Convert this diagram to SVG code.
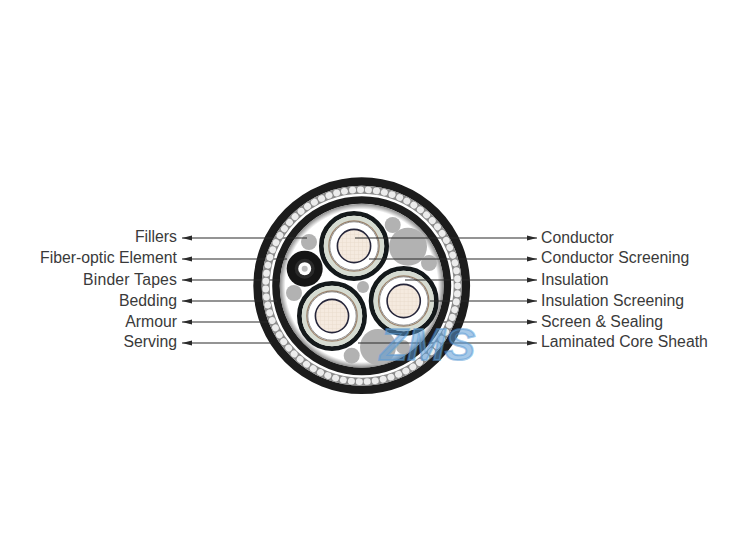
<svg xmlns="http://www.w3.org/2000/svg" width="750" height="550" viewBox="0 0 750 550">
<defs>
<marker id="arr" markerUnits="userSpaceOnUse" markerWidth="10" markerHeight="6" refX="10" refY="3" orient="auto-start-reverse"><path d="M0 0.6L10 3L0 5.4Z" fill="#2a2a2a"/></marker>
<radialGradient id="fade" cx="50%" cy="50%" r="50%"><stop offset="0.93" stop-color="#fff"/><stop offset="1" stop-color="#8a8a8a"/></radialGradient>
<pattern id="cond" width="4" height="4" patternUnits="userSpaceOnUse"><rect width="4" height="4" fill="#f5eadf"/><path d="M0 0H4M0 0V4" stroke="#e9dccd" stroke-width="1"/></pattern>
<g id="core">
<circle r="32.6" fill="#fff" stroke="#14191b" stroke-width="4.8"/>
<circle r="27.8" fill="none" stroke="#d6dcd2" stroke-width="5"/>
<circle r="25.2" fill="none" stroke="#9a8068" stroke-width="1.2"/>
<circle r="24.2" fill="none" stroke="#666" stroke-width="0.7"/>
<circle r="16.6" fill="url(#cond)" stroke="#26263a" stroke-width="1.6"/>
</g>
</defs>
<style>
.lbl{font-family:"Liberation Sans",Arial,sans-serif;font-size:15.8px;fill:#3a3a3a}
.l{text-anchor:end}
.ln{stroke:#2a2a2a;stroke-width:1.1;fill:none}
.fill{fill:#b2b2b2}
</style>
<rect width="750" height="550" fill="#fff"/>
<g id="cable">
<circle id="serving" cx="361.7" cy="285.7" r="104.2" fill="#fff" stroke="#1c1c1c" stroke-width="8.4"/>
<circle id="bedding" cx="361.7" cy="285.7" r="85.7" fill="none" stroke="#1c1c1c" stroke-width="7.6"/>
<circle cx="361.7" cy="285.7" r="82" fill="url(#fade)"/>
</g>
<g id="fillers">
<circle class="fill" cx="309" cy="242" r="8"/>
<circle class="fill" cx="392.7" cy="225" r="8"/>
<circle class="fill" cx="408" cy="246.7" r="19"/>
<circle class="fill" cx="429" cy="263" r="8"/>
<circle class="fill" cx="294" cy="293" r="8"/>
<circle class="fill" cx="363" cy="287" r="6"/>
<circle class="fill" cx="378" cy="347" r="18"/>
<circle class="fill" cx="351.7" cy="355.7" r="8"/>
<circle class="fill" cx="403" cy="347" r="7"/>
</g>
<g id="fiber-optic">
<circle cx="304.7" cy="268.7" r="18" fill="#151515"/>
<circle cx="304.7" cy="268.7" r="10" fill="#2a2a2a"/>
<circle cx="304.7" cy="268.7" r="6.5" fill="#fff"/>
<circle cx="304.7" cy="268.7" r="3" fill="#bbb"/>
</g>
<use id="core-top" href="#core" x="354" y="246"/>
<use id="core-right" href="#core" x="403.7" y="301"/>
<use id="core-left" href="#core" x="332" y="316"/>
<g id="connectors">
<path class="ln" marker-end="url(#arr)" d="M307 238H182"/>
<path class="ln" marker-end="url(#arr)" d="M287 259H182"/>
<path class="ln" marker-end="url(#arr)" d="M280 280H182"/>
<path class="ln" marker-end="url(#arr)" d="M277 301H182"/>
<path class="ln" marker-end="url(#arr)" d="M267 322H182"/>
<path class="ln" marker-end="url(#arr)" d="M272 343H182"/>
<path class="ln" marker-end="url(#arr)" d="M355 238H537"/>
<path class="ln" marker-end="url(#arr)" d="M369 259H537"/>
<path class="ln" marker-end="url(#arr)" d="M405 280H537"/>
<path class="ln" marker-end="url(#arr)" d="M430 301H537"/>
<path class="ln" marker-end="url(#arr)" d="M440 322H537"/>
<path class="ln" marker-end="url(#arr)" d="M358 343H537"/>
</g>
<g id="armour">
<circle cx="361.7" cy="285.7" r="96" fill="none" stroke="#8c8c8c" stroke-width="8"/>
<circle cx="361.7" cy="285.7" r="96" fill="none" stroke="#ececec" stroke-width="6.6" stroke-dasharray="0.4 7.64" stroke-linecap="round"/>
</g>
<g id="labels-left">
<text class="lbl l" x="177" y="241.5">Fillers</text>
<text class="lbl l" x="177" y="262.5">Fiber-optic Element</text>
<text class="lbl l" x="177" y="284.5" textLength="94">Binder Tapes</text>
<text class="lbl l" x="177" y="305.5">Bedding</text>
<text class="lbl l" x="177" y="326.5">Armour</text>
<text class="lbl l" x="177" y="346.5">Serving</text>
</g>
<g id="labels-right">
<text class="lbl" x="541" y="242.5">Conductor</text>
<text class="lbl" x="541" y="262.5">Conductor Screening</text>
<text class="lbl" x="541" y="284.5">Insulation</text>
<text class="lbl" x="541" y="305.5">Insulation Screening</text>
<text class="lbl" x="541" y="326.5">Screen &amp; Sealing</text>
<text class="lbl" x="541" y="346.5">Laminated Core Sheath</text>
</g>
<text id="watermark" x="380" y="360" font-family="Liberation Sans, Arial, sans-serif" font-size="44" font-weight="700" font-style="italic" fill="#5b9bd5" fill-opacity="0.55" stroke="#5b9bd5" stroke-opacity="0.55" stroke-width="2" textLength="95" lengthAdjust="spacingAndGlyphs">ZMS</text>
</svg>
